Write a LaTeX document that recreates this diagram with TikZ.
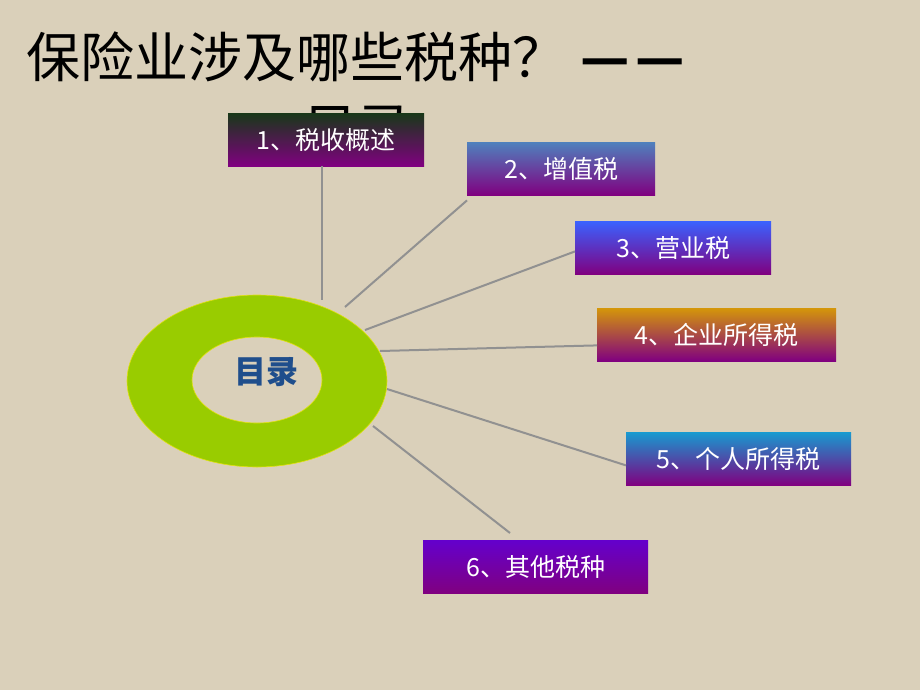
\documentclass[tikz,border=0pt]{standalone}
\usepackage{fontspec}
\newfontfamily\cjk{Noto Sans CJK SC}
\definecolor{bg}{RGB}{218,208,186}
\definecolor{ring}{RGB}{153,204,0}
\definecolor{conn}{RGB}{145,145,145}
\definecolor{purp}{RGB}{128,0,128}
\definecolor{mulu}{RGB}{31,78,140}
\tikzset{
  tbox/.style={rectangle, anchor=north west, inner sep=0pt, text=white,
     font=\cjk\fontsize{25}{25}\selectfont, bottom color=purp},
  link/.style={draw=conn, line width=2pt},
  titletext/.style={inner sep=0pt, anchor=base west, font=\cjk\fontsize{54}{54}\selectfont, text=black}
}
\begin{document}
\begin{tikzpicture}[x=1pt,y=-1pt]
\fill[bg] (0,0) rectangle (920,690);
\useasboundingbox (0,0) rectangle (920,690);
% title
\node[titletext] (t1) at (26,78) {保险业涉及哪些税种？\kern14pt{\bfseries —\kern6pt—}};
\node[titletext, anchor=base] (t2) at (357,148) {目录};
% ring
\fill[ring, even odd rule, draw=yellow!70!ring, line width=0.6pt] (257,381) ellipse [x radius=130, y radius=86] (257,380) ellipse [x radius=65, y radius=43];
\node[font=\cjk\bfseries\fontsize{32}{32}\selectfont, text=mulu] (c) at (266,372) {目录};
% ring end points
\coordinate (r1) at (322,300);
\coordinate (r2) at (345,307);
\coordinate (r3) at (365,330);
\coordinate (r4) at (380,351);
\coordinate (r5) at (387,389);
\coordinate (r6) at (373,426);
% boxes
\node[tbox, top color={rgb,255:red,24;green,56;blue,24}, minimum width=196pt, minimum height=53pt] (b1) at (228,113) {1、税收概述};
\node[tbox, top color={rgb,255:red,79;green,129;blue,189}, minimum width=188pt, minimum height=53pt] (b2) at (467,142) {2、增值税};
\node[tbox, top color={rgb,255:red,58;green,98;blue,255}, minimum width=196pt, minimum height=53pt] (b3) at (575,221) {3、营业税};
\node[tbox, top color={rgb,255:red,212;green,150;blue,10}, minimum width=239pt, minimum height=53pt] (b4) at (597,308) {4、企业所得税};
\node[tbox, top color={rgb,255:red,24;green,154;blue,208}, minimum width=225pt, minimum height=53pt] (b5) at (626,432) {5、个人所得税};
\node[tbox, top color={rgb,255:red,100;green,0;blue,204}, minimum width=225pt, minimum height=53pt] (b6) at (423,540) {6、其他税种};
% connectors
\draw[link] ([xshift=94pt]b1.south west) -- (r1);
\draw[link] ([yshift=-5pt]b2.south west) -- (r2);
\draw[link] ([yshift=23pt]b3.south west) -- (r3);
\draw[link] ([yshift=16pt]b4.south west) -- (r4);
\draw[link] ([yshift=20pt]b5.south west) -- (r5);
\draw[link] ([xshift=87pt,yshift=7pt]b6.north west) -- (r6);
\end{tikzpicture}
\end{document}
